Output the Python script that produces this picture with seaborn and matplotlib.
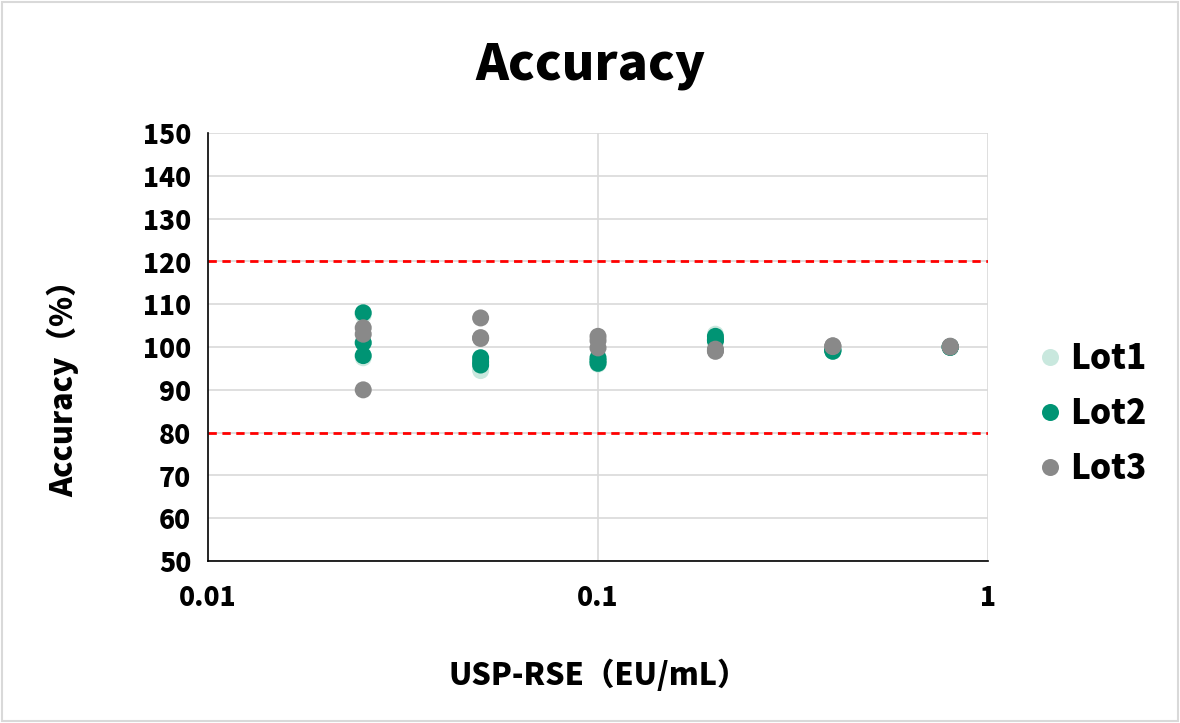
import numpy as np
import pandas as pd
import matplotlib
matplotlib.use("Agg")
import matplotlib.pyplot as plt
import seaborn as sns
from matplotlib.patches import Rectangle

concentrations = [0.025, 0.05, 0.1, 0.2, 0.4, 0.8]
lot1 = [[107.5, 101.0, 97.5], [97.0, 95.0, 94.5], [97.0, 96.5, 96.0], [103.0, 102.0, 101.0], [99.5, 99.5, 99.7], [100.0, 100.0, 100.1]]
lot2 = [[108.0, 101.0, 98.0], [97.5, 96.5, 95.8], [97.5, 96.8, 96.2], [102.5, 101.7, 101.5], [99.2, 99.0, 99.3], [100.0, 99.9, 100.1]]
lot3 = [[104.5, 103.0, 90.0], [106.8, 102.2, 102.0], [102.5, 101.5, 99.8], [99.5, 99.0, 99.2], [100.3, 100.2, 100.1], [100.2, 100.1, 100.0]]
lot_names = ["Lot1", "Lot2", "Lot3"]
lot_colors = ["#c9e8de", "#009474", "#898989"]
limits = [80, 120]
yticks = list(range(50, 151, 10))
xticks = [0.01, 0.1, 1]
xticklabels = ["0.01", "0.1", "1"]

rows = []
for name, vals in zip(lot_names, [lot1, lot2, lot3]):
    for c, vs in zip(concentrations, vals):
        for v in vs:
            rows.append({"conc": c, "acc": v, "lot": name})
df = pd.DataFrame(rows)

sns.set_style("white")
plt.rcParams['font.family'] = ['Noto Sans CJK JP', 'DejaVu Sans']
plt.rcParams['font.weight'] = 'heavy'
plt.rcParams['text.color'] = 'black'
plt.rcParams['axes.labelcolor'] = 'black'
plt.rcParams['xtick.color'] = 'black'
plt.rcParams['ytick.color'] = 'black'

fig = plt.figure(figsize=(11.8, 7.23), dpi=100)
ax = fig.add_axes([0.1763, 0.224, 0.661, 0.592])

for y in yticks:
    ax.axhline(y, color="#d9d9d9", lw=1.2, zorder=0)
for x in [0.1, 1]:
    ax.axvline(x, color="#d9d9d9", lw=1.2, zorder=0)
for lim in limits:
    ax.axhline(lim, color="#ff0000", lw=2, ls=(0, (3, 2)), zorder=1)

sns.scatterplot(data=df, x="conc", y="acc", hue="lot", palette=dict(zip(lot_names, lot_colors)),
                s=150, edgecolor="none", ax=ax, zorder=3, legend=True)

ax.set_xscale("log")
ax.set_xlim(0.01, 1)
ax.set_ylim(50, 150)
ax.set_xticks(xticks)
ax.set_xticklabels(xticklabels)
ax.set_yticks(yticks)
ax.minorticks_off()
ax.tick_params(axis="both", labelsize=19, length=0)
ax.tick_params(axis="y", pad=12)
ax.tick_params(axis="x", pad=16)
for lab in ax.get_xticklabels() + ax.get_yticklabels():
    lab.set_fontweight("heavy")

for side in ["top", "right"]:
    ax.spines[side].set_visible(False)
for side in ["left", "bottom"]:
    ax.spines[side].set_color("#000000")
    ax.spines[side].set_linewidth(1.2)

ax.set_xlabel("USP-RSE（EU/mL）", fontsize=22, fontweight="heavy", labelpad=34)
ax.set_ylabel("Accuracy（%）", fontsize=22, fontweight="heavy", labelpad=30)
ax.yaxis.set_label_coords(-0.165, 0.42)
fig.text(0.5, 0.91, "Accuracy", ha="center", va="center", fontsize=36, fontweight="heavy")

handles, labels = ax.get_legend_handles_labels()
leg = ax.legend(handles, labels, loc="center left", bbox_to_anchor=(1.02, 0.345), frameon=False,
                prop={"size": 24, "weight": "heavy"}, markerscale=1.0, handletextpad=0.1,
                labelspacing=0.6, handlelength=1.0)

fig.patches.append(Rectangle((0.002, 0.003), 0.996, 0.994, transform=fig.transFigure,
                             fill=False, edgecolor="#d9d9d9", lw=1.5))

fig.savefig("out.png", dpi=100)
